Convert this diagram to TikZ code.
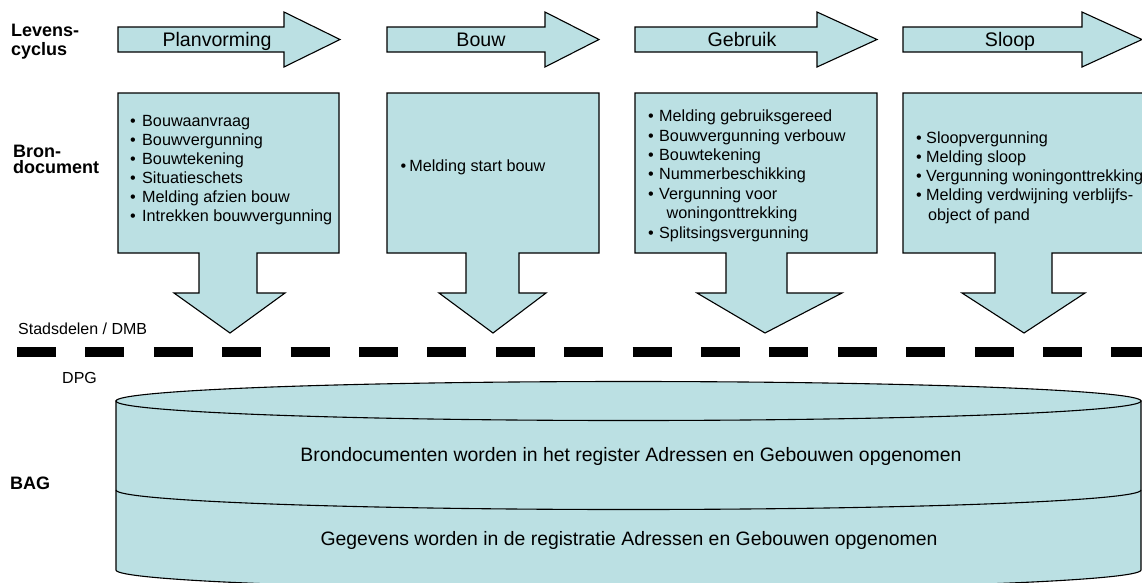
\documentclass[tikz,border=0pt]{standalone}
\usepackage{fontspec}
\setmainfont{Liberation Sans}
\definecolor{bagfill}{HTML}{BBE0E3}
\tikzset{
  shapefill/.style={fill=bagfill, draw=black, line width=1.1pt, line join=miter},
  phase/.style={font=\fontsize{19.6}{22}\selectfont, inner sep=0pt, anchor=base},
  item/.style={font=\fontsize{16.2}{19}\selectfont, inner sep=0pt, anchor=base west},
  rowlabel/.style={font=\bfseries\fontsize{18}{20}\selectfont, inner sep=0pt, anchor=base west},
  note/.style={font=\fontsize{16}{19}\selectfont, inner sep=0pt, anchor=base west},
  bagtext/.style={font=\fontsize{19.4}{22}\selectfont, inner sep=0pt, anchor=base},
  divider/.style={line width=10pt, dash pattern=on 39pt off 29.4pt},
}
% lifecycle arrow: left end, start of head, tip
\newcommand\phasearrow[3]{%
  \draw[shapefill] (#1,27) -- (#2,27) -- (#2,12) -- (#3,39.5) -- (#2,67)
    -- (#2,52) -- (#1,52) -- cycle;}
% document box with downward arrow: left, right, stem left, stem right, head left, head right, tip
\newcommand\docbox[7]{%
  \draw[shapefill] (#1,93) -- (#2,93) -- (#2,253) -- (#4,253) -- (#4,293)
    -- (#6,293) -- (#7,333) -- (#5,293) -- (#3,293) -- (#3,253) -- (#1,253) -- cycle;}
\newcommand\bulmark[1]{\makebox[#1][l]{•}}
\begin{document}
\begin{tikzpicture}[x=1pt, y=-1pt]
\useasboundingbox (0,0) rectangle (1142,582);

% row labels
\node[rowlabel] (lc1) at (11,36.7) {Levens-};
\node[rowlabel] (lc2) at (11,55.5) {cyclus};
\node[rowlabel] (bd1) at (13,157) {Bron-};
\node[rowlabel] (bd2) at (13,173.5) {document};
\node[rowlabel] (bag) at (10,489) {BAG};

% lifecycle phases
\phasearrow{118}{284}{340}
\phasearrow{387}{545}{599}
\phasearrow{635}{817}{877}
\phasearrow{903}{1082}{1142}
\node[phase] (ph-plan) at (217,46) {Planvorming};
\node[phase] (ph-bouw) at (481,46) {Bouw};
\node[phase] (ph-gebr) at (742,46) {Gebruik};
\node[phase] (ph-sloop) at (1010,46) {Sloop};

% source documents per phase
\docbox{118}{339}{199}{257}{174}{285}{230}
\docbox{387}{599}{466}{519}{439}{546}{493}
\docbox{635}{877}{726}{787}{697}{842}{765}
\docbox{903}{1144}{995}{1052}{962}{1085}{1024}

\foreach \txt [count=\k] in {Bouwaanvraag, Bouwvergunning, Bouwtekening,
    Situatieschets, Melding afzien bouw, Intrekken bouwvergunning}
  \node[item] (plan-\k) at (130,{126.7+19*(\k-1)}) {\bulmark{12pt}\txt};

\node[item] (bouw-1) at (400.5,171.7) {\bulmark{8.7pt}Melding start bouw};

\node[item] (gebr-1) at (648,121.7) {\bulmark{11pt}Melding gebruiksgereed};
\node[item] (gebr-2) at (648,141.1) {\bulmark{11pt}Bouwvergunning verbouw};
\node[item] (gebr-3) at (648,160.5) {\bulmark{11pt}Bouwtekening};
\node[item] (gebr-4) at (648,179.9) {\bulmark{11pt}Nummerbeschikking};
\node[item] (gebr-5) at (648,199.3) {\bulmark{11pt}Vergunning voor};
\node[item] (gebr-5b) at (666.5,218.7) {woningonttrekking};
\node[item] (gebr-6) at (648,238.1) {\bulmark{11pt}Splitsingsvergunning};

\node[item] (sloop-1) at (916,143.3) {\bulmark{10pt}Sloopvergunning};
\node[item] (sloop-2) at (916,162.5) {\bulmark{10pt}Melding sloop};
\node[item] (sloop-3) at (916,181.7) {\bulmark{10pt}Vergunning woningonttrekking};
\node[item] (sloop-4) at (916,200.9) {\bulmark{10pt}Melding verdwijning verblijfs-};
\node[item] (sloop-4b) at (928,220.1) {object of pand};

% organisational boundary
\node[note] (org-top) at (18,334) {Stadsdelen / DMB};
\coordinate (dl-start) at (17,352);
\coordinate (dl-end) at (1150,352);
\draw[divider] (dl-start) -- (dl-end);
\node[note] (org-bot) at (62,383) {DPG};

% BAG register as a cylinder
\draw[shapefill] (116,401) -- (116,570)
  .. controls (116,580.77) and (345.45,589.5) .. (628.5,589.5)
  .. controls (911.55,589.5) and (1141,580.77) .. (1141,570)
  -- (1141,401) -- cycle;
\draw[shapefill] (628.5,401) ellipse [x radius=512.5, y radius=19.5];
\draw[line width=1.1pt] (116,490)
  .. controls (116,500.77) and (345.45,509.5) .. (628.5,509.5)
  .. controls (911.55,509.5) and (1141,500.77) .. (1141,490);
\node[bagtext] (bag-1) at (631,461.7) {Brondocumenten worden in het register Adressen en Gebouwen opgenomen};
\node[bagtext] (bag-2) at (629,545) {Gegevens worden in de registratie Adressen en Gebouwen opgenomen};
\end{tikzpicture}
\end{document}
